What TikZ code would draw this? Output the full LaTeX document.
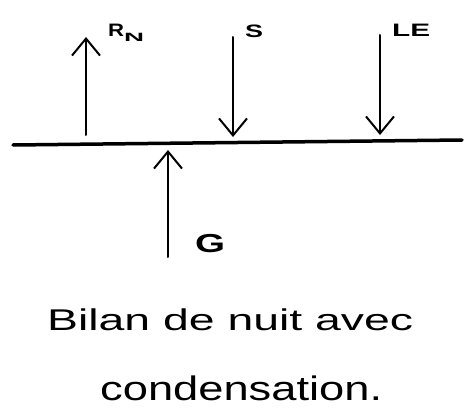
\documentclass[tikz,border=0pt]{standalone}
\usepackage{fontspec}
\setmainfont{Liberation Sans}
\usetikzlibrary{arrows.meta}
\newcommand{\widetxt}[2]{\resizebox{#1}{\height}{#2}}
\tikzset{
  flux/.style={line width=2pt, line cap=round, -{Straight Barb[length=17pt,width=28pt,line width=2pt]}},
  ground/.style={line width=3.5pt, line cap=round},
  lbl/.style={inner sep=0pt, anchor=base west, font=\bfseries},
  captxt/.style={inner sep=0pt, anchor=base west},
}
\begin{document}
\begin{tikzpicture}[x=1pt,y=1pt]
\useasboundingbox (0,0) rectangle (471,408);
% ground line
\coordinate (gl) at (13,263);
\coordinate (gr) at (462,268);
\draw[ground] (gl) -- (gr);
% arrow end points
\coordinate (rnA) at (86,273);
\coordinate (rnB) at (86,371);
\coordinate (sA) at (233,371);
\coordinate (sB) at (233,271);
\coordinate (leA) at (380,373);
\coordinate (leB) at (380,273);
\coordinate (gA) at (168,151);
\coordinate (gB) at (168,258);
\draw[flux] (rnA) -- (rnB);
\draw[flux] (sA) -- (sB);
\draw[flux] (leA) -- (leB);
\draw[flux] (gA) -- (gB);
% labels
\node[lbl] (rn) at (108,371) {\fontsize{18}{18}\selectfont\widetxt{16pt}{R}\raisebox{-5pt}{\fontsize{12}{12}\selectfont\widetxt{20pt}{N}}};
\node[lbl] (s) at (245,370) {\fontsize{18}{18}\selectfont\widetxt{18pt}{S}};
\node[lbl] (le) at (392,371) {\fontsize{18}{18}\selectfont\widetxt{38pt}{LE}};
\node[lbl] (g) at (195,156) {\fontsize{26}{26}\selectfont\widetxt{30pt}{G}};
% caption
\node[captxt] (cap1) at (47,78) {\fontsize{30}{30}\selectfont\widetxt{366pt}{Bilan de nuit avec}};
\node[captxt] (cap2) at (100,8) {\fontsize{34}{34}\selectfont\widetxt{282pt}{condensation.}};
\end{tikzpicture}
\end{document}
